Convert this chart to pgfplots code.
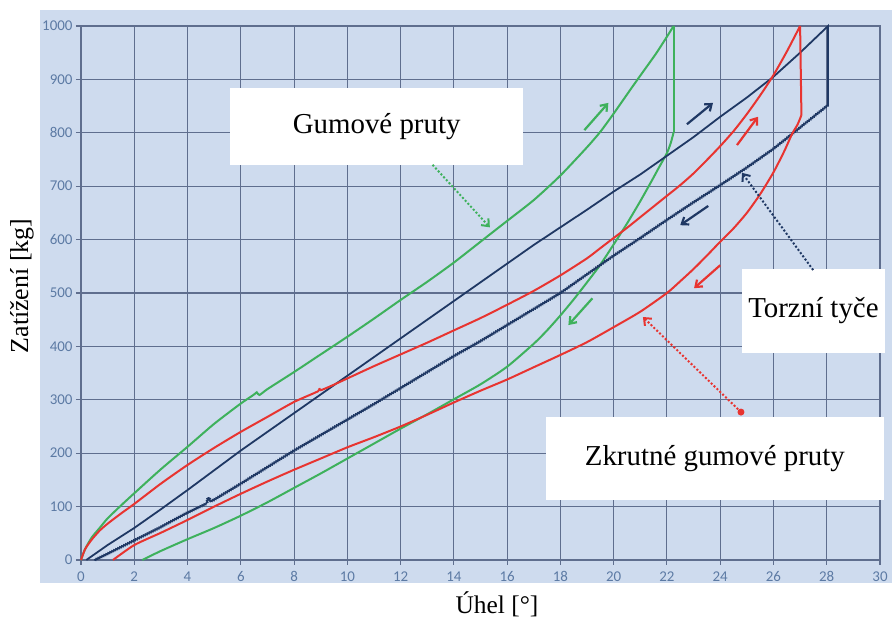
\documentclass[border=0pt]{standalone}
\usepackage{pgfplots}
\pgfplotsset{compat=1.18}
\usepackage{fontspec}
\setmainfont{Liberation Serif}
\newfontfamily\tickfont{Carlito}
\usetikzlibrary{arrows.meta,decorations.pathmorphing}
\definecolor{bgblue}{RGB}{206,219,238}
\definecolor{gridcol}{RGB}{95,110,142}
\definecolor{tickblue}{RGB}{92,122,164}
\definecolor{cgreen}{RGB}{62,177,92}
\definecolor{cred}{RGB}{232,52,48}
\definecolor{cnavy}{RGB}{31,56,100}
\begin{document}
\begin{tikzpicture}
\useasboundingbox (0,0) rectangle (894bp,623bp);
\fill[white] (0,0) rectangle (894bp,623bp);
\fill[bgblue] (40bp,40bp) rectangle (892bp,613bp);
\node[rotate=90, font=\fontsize{26}{30}\selectfont] at (22bp,337bp) {Zatížení [kg]};
\node[anchor=base, font=\fontsize{25.5}{30}\selectfont] at (497bp,10bp) {Úhel [°]};
\begin{axis}[
  at={(81bp,63bp)}, anchor=south west,
  scale only axis, width=799bp, height=534bp,
  xmin=0, xmax=30, ymin=0, ymax=1000,
  xtick={0,2,...,30}, ytick={0,100,...,1000},
  grid=major, grid style={gridcol, line width=1.1bp},
  axis line style={gridcol, line width=1.1bp},
  tick style={gridcol, line width=1.1bp},
  tick align=outside, major tick length=5bp,
  xtick pos=left, ytick pos=left,
  tick label style={font=\tickfont\fontsize{15}{16}\selectfont, text=tickblue},
  xticklabel style={yshift=-3bp},
  /pgf/number format/assume math mode=true,
  /pgf/number format/1000 sep={},
  clip=false,
]
% Gumove pruty - loading
\addplot[cgreen, line width=2bp, smooth, tension=0.4] coordinates {
(0,0) (0.15,20) (0.4,42) (0.7,60) (1.0,78) (1.5,102) (2.0,125) (3.0,170) (4.0,212)
(5.0,255) (6.0,293) (6.5,310) (6.6,314) (6.7,309) (7.0,320) (8.0,352) (9.0,385)
(10.0,418) (11.0,452) (12.0,487) (13.0,521) (14.0,557) (15.0,596) (16.0,635)
(17.0,674) (18.0,720) (19.0,773) (19.5,802) (20.0,836) (20.7,886) (21.2,921)
(21.6,949) (22.0,980) (22.25,1000)};
% Gumove pruty - unloading
\addplot[cgreen, line width=2bp] coordinates {(22.25,1000) (22.25,801)};
\addplot[cgreen, line width=2bp, smooth, tension=0.4] coordinates {
(22.25,801) (22.15,782) (22.0,762) (21.7,735) (21.45,712) (21.0,672) (20.5,630)
(20.0,591) (19.5,553) (19.0,520) (18.5,488) (18.0,458) (17.5,430) (17.0,405)
(16.0,362) (15.0,329) (14.0,301) (13.0,273) (12.0,246) (11.0,218) (10.0,190)
(9.0,162) (8.0,135) (7.0,108) (6.0,83) (5.0,60) (4.0,39) (3.0,17) (2.3,0)};
% Torzni tyce - loading
\addplot[cnavy, line width=1.8bp] coordinates {
(0.2,0) (1,28) (2,60) (3,95) (4,131) (5,168) (6,205) (7,240) (8,275) (9,310)
(10,345) (11,380) (12,415) (13,450) (14,485) (15,520) (16,555) (17,590) (18,623)
(19,656) (20,690) (21,722) (22,757) (23,792) (24,830) (25,866) (26,905) (27,950)
(28.05,1000) (28.05,852)};
% Torzni tyce - unloading
\addplot[cnavy, line width=1.6bp, decorate, decoration={snake, amplitude=0.6bp, segment length=2.2bp}] coordinates {
(28.05,852) (27,810) (26,770) (25,735) (24,702) (23,670) (22,637) (21,603) (20,570)
(19,535) (18,500) (17,470) (16,440) (15,410) (14,382) (13,352) (12,322) (11,292)
(10,263) (9,234) (8,205) (7,174) (6,143) (5,113) (4.85,110) (4.8,118) (4.75,107)
(4,89) (3,62) (2,37) (1,12) (0.5,0)};
% Zkrutne gumove pruty - loading
\addplot[cred, line width=2bp, smooth, tension=0.4] coordinates {
(0,0) (0.15,20) (0.4,38) (0.7,55) (1,68) (1.5,87) (2,105) (3,143) (4,178) (5,210)
(6,240) (7,268) (8,296) (8.9,316) (8.95,322) (9.0,318) (9.35,325) (10,340) (11,363)
(12,385) (13,407) (14,430) (15,453) (16,478) (17,504) (18,533) (19,565) (19.5,584)
(20,603) (20.5,622) (21,642) (21.5,662) (22,682) (22.5,702) (23,724) (23.5,749)
(24,775) (24.5,803) (25,835) (25.5,870) (26,908) (26.5,952) (27,1000)};
% Zkrutne gumove pruty - unloading
\addplot[cred, line width=2bp] coordinates {(27,1000) (27.05,833)};
\addplot[cred, line width=2bp, smooth, tension=0.4] coordinates {
(27.05,833) (26.9,815) (26.7,798) (26.4,765) (26.0,726)
(25.5,685) (25.0,650) (24.5,621) (24.0,596) (23.5,570) (23.0,545) (22.5,522)
(22.0,500) (21.0,465) (20.0,436) (19.0,408) (18.0,384) (17.0,361) (16.0,338)
(15.0,317) (14.0,295) (13.0,272) (12.0,250) (11.0,230) (10.0,211) (9.0,190)
(8.0,169) (7.0,147) (6.0,124) (5.0,100) (4.0,75) (3.0,51) (2.0,28) (1.2,0)};
% direction arrows
\draw[cgreen, line width=2.2bp, -{Straight Barb[length=6bp,width=9bp]}] (axis cs:18.9,805) -- (axis cs:19.8,856);
\draw[cgreen, line width=2.2bp, -{Straight Barb[length=6bp,width=9bp]}] (axis cs:19.2,490) -- (axis cs:18.3,440);
\draw[cnavy, line width=2.2bp, -{Straight Barb[length=6bp,width=9bp]}] (axis cs:22.75,816) -- (axis cs:23.73,856);
\draw[cnavy, line width=2.2bp, -{Straight Barb[length=6bp,width=9bp]}] (axis cs:23.55,663) -- (axis cs:22.5,627);
\draw[cred, line width=2.2bp, -{Straight Barb[length=6bp,width=9bp]}] (axis cs:24.63,777) -- (axis cs:25.42,830);
\draw[cred, line width=2.2bp, -{Straight Barb[length=6bp,width=9bp]}] (axis cs:24.0,552) -- (axis cs:23.02,509);
% text boxes
\node[fill=white, minimum width=293bp, minimum height=77bp, inner sep=0pt, font=\fontsize{29}{34}\selectfont] at (axis cs:11.1,812) {Gumové pruty};
\node[fill=white, minimum width=143bp, minimum height=84bp, inner sep=0pt, font=\fontsize{29}{34}\selectfont] at (axis cs:27.5,466.5) {Torzní tyče};
\node[fill=white, minimum width=338bp, minimum height=83bp, inner sep=0pt, font=\fontsize{29}{34}\selectfont] at (axis cs:23.8,190) {Zkrutné gumové pruty};
% callouts
\draw[cgreen, line width=2bp, dotted, -{Straight Barb[length=6bp,width=10bp]}] (axis cs:13.2,740) -- (axis cs:15.35,623);
\draw[cnavy, line width=2bp, dotted, -{Straight Barb[length=6bp,width=10bp]}] (axis cs:27.49,543) -- (axis cs:24.82,725);
\draw[cred, line width=2bp, dotted, -{Straight Barb[length=6bp,width=10bp]}] (axis cs:24.78,277) -- (axis cs:21.1,455);
\fill[cred] (axis cs:24.78,277) circle (3.5bp);
\end{axis}
\end{tikzpicture}
\end{document}
